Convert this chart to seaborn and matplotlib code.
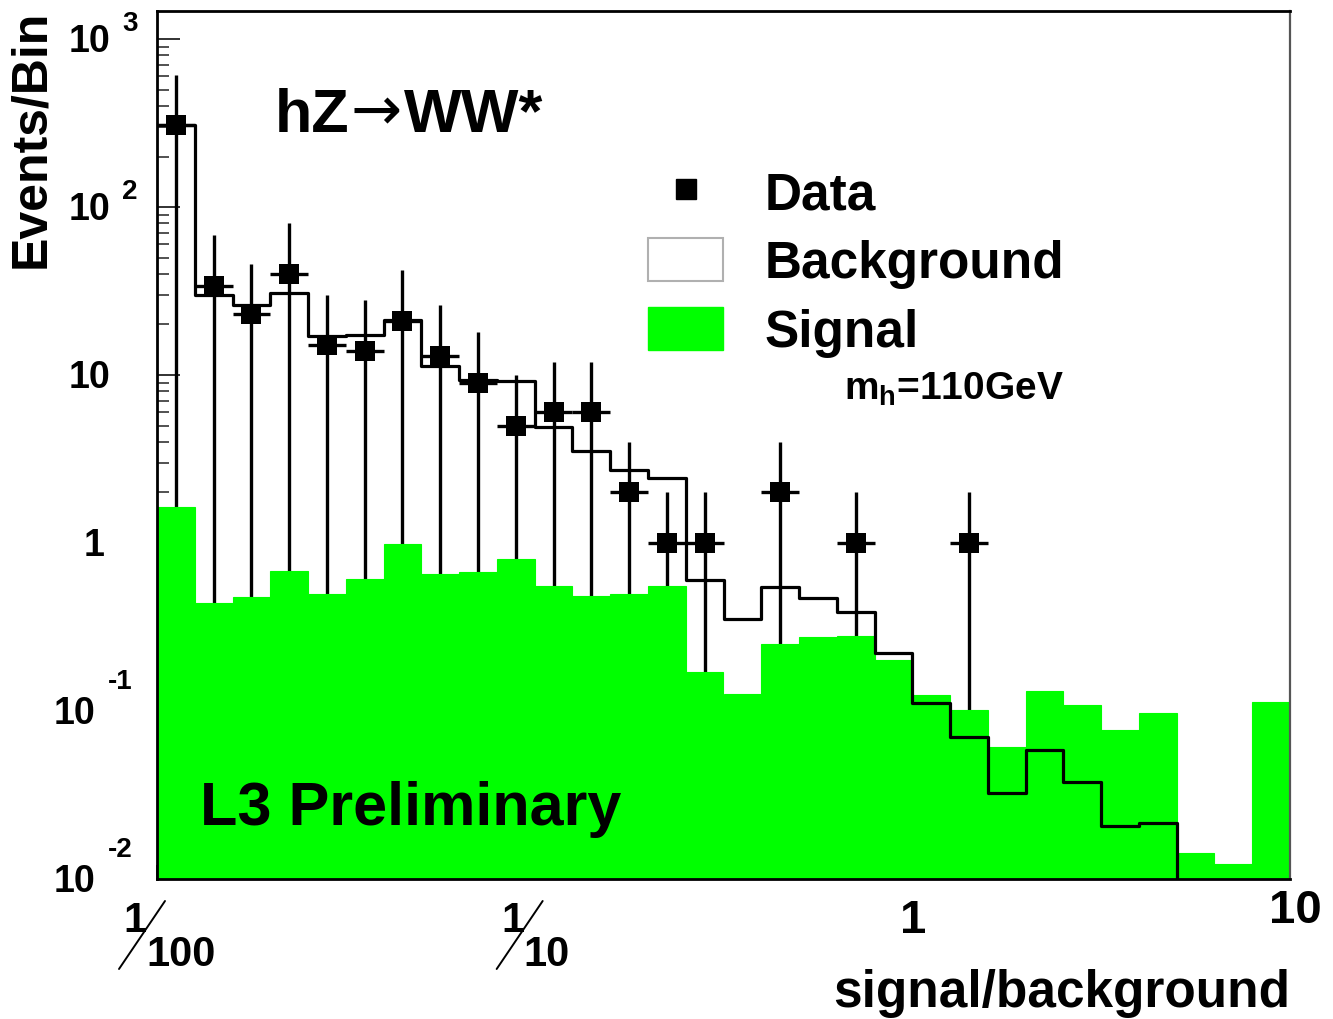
import numpy as np
import pandas as pd
import matplotlib
matplotlib.use("Agg")
import matplotlib.pyplot as plt
import seaborn as sns
from matplotlib.lines import Line2D
from matplotlib.patches import Patch
from matplotlib.container import BarContainer
from matplotlib.ticker import FixedLocator, NullFormatter, LogLocator

# ---------------- data ----------------
log_bin_edges = [round(-2.0 + 0.1 * k, 1) for k in range(31)]   # log10(signal/background)
signal = [1.64, 0.44, 0.475, 0.68, 0.50, 0.61, 0.99, 0.65, 0.67, 0.80,
          0.557, 0.485, 0.50, 0.557, 0.17, 0.126, 0.25, 0.274, 0.28, 0.20,
          0.124, 0.102, 0.061, 0.131, 0.109, 0.0775, 0.097, 0.0142, 0.0123, 0.113]
background = [307, 29.9, 26.1, 30.6, 17.1, 17.3, 21.3, 11.3, 9.4, 9.2,
              4.89, 3.55, 2.73, 2.43, 0.60, 0.353, 0.55, 0.469, 0.386, 0.223,
              0.112, 0.070, 0.0325, 0.0589, 0.0376, 0.0206, 0.0216, 0, 0, 0]
data_counts = [307, 34, 23, 40, 15, 14, 21, 13, 9, 5,
               6, 6, 2, 1, 1, 0, 2, 0, 1, 0,
               0, 1, 0, 0, 0, 0, 0, 0, 0, 0]
legend_labels = ["Data", "Background", "Signal"]
y_tick_values = [1e-2, 1e-1, 1, 10, 1e2, 1e3]
y_tick_base = ["10", "10", "1", "10", "10", "10"]
y_tick_exp = ["-2", "-1", "", "", "2", "3"]
x_tick_values = [0.01, 0.1, 1, 10]
x_tick_numer = ["1", "1", "1", "10"]
x_tick_denom = ["100", "10", "", ""]

# ---------------- style ----------------
sns.set_style("white")
FAM = ["Liberation Sans", "DejaVu Sans"]
plt.rcParams["font.family"] = FAM
plt.rcParams["font.weight"] = "bold"
plt.rcParams["text.color"] = "black"
plt.rcParams["axes.labelcolor"] = "black"
plt.rcParams["xtick.color"] = "black"
plt.rcParams["ytick.color"] = "black"
plt.rcParams["mathtext.fontset"] = "custom"
plt.rcParams["mathtext.rm"] = "Liberation Sans:bold"
plt.rcParams["mathtext.bf"] = "Liberation Sans:bold"
plt.rcParams["mathtext.it"] = "Liberation Sans:bold"
GREEN = "#00ff00"
FLOOR = 1e-5   # stands in for zero on the log axis (below the visible range)

W, H = 1333, 1020
fig = plt.figure(figsize=(W / 100, H / 100), dpi=100)
fig.patch.set_facecolor("white")
ax = fig.add_axes([157 / W, 1 - 880 / H, (1290 - 157) / W, (880 - 12) / H])
ax.set_xscale("log")
ax.set_yscale("log")

edges = np.power(10.0, np.array(log_bin_edges))
centers = np.sqrt(edges[:-1] * edges[1:])
df = pd.DataFrame({"sb": centers, "signal": signal,
                   "background": background, "data": data_counts,
                   "lo": edges[:-1], "hi": edges[1:]})
dd = df[df["data"] > 0]

# data error bars (drawn first, so the signal fill covers their lower part)
ax.errorbar(dd["sb"], dd["data"],
            yerr=[dd["data"] * (1 - FLOOR), dd["data"]],
            xerr=[dd["sb"] - dd["lo"], dd["hi"] - dd["sb"]],
            fmt="none", ecolor="black", elinewidth=2.4, capsize=0, zorder=1)

# signal (filled bars)
sns.histplot(data=df, x="sb", weights="signal", bins=log_bin_edges,
             log_scale=(True, True), element="bars", fill=True,
             color=GREEN, alpha=1, linewidth=0.8, edgecolor=GREEN,
             zorder=2, ax=ax)
# lift the bar baselines from 0 to a value below the axis (log axis cannot show 0)
for cont in ax.containers:
    if isinstance(cont, BarContainer):
        for r in cont:
            top = r.get_y() + r.get_height()
            r.set_y(FLOOR)
            r.set_height(top - FLOOR)

# background (outline)
n_lines = len(ax.lines)
sns.histplot(data=df, x="sb", weights="background", bins=log_bin_edges,
             log_scale=(True, True), element="step", fill=False,
             color="black", linewidth=2.3, zorder=3, ax=ax)
for ln in ax.lines[n_lines:]:
    yv = np.asarray(ln.get_ydata(), dtype=float)
    ln.set_ydata(np.where(yv <= 0, FLOOR, yv))

sns.scatterplot(data=dd, x="sb", y="data", marker="s", s=210, color="black",
                linewidth=0, zorder=5, ax=ax, legend=False)

ax.set_xlim(0.01, 10)
ax.set_ylim(0.01, 1470)
ax.set_xlabel("")
ax.set_ylabel("")

# ticks
ax.xaxis.set_major_locator(FixedLocator(list(10.0 ** np.arange(-2, 1.01, 0.5))))
ax.xaxis.set_minor_locator(FixedLocator(list(edges)))
ax.xaxis.set_major_formatter(NullFormatter())
ax.xaxis.set_minor_formatter(NullFormatter())
ax.yaxis.set_major_locator(FixedLocator(y_tick_values))
ax.yaxis.set_minor_locator(LogLocator(base=10, subs=np.arange(2, 10), numticks=20))
ax.yaxis.set_major_formatter(NullFormatter())
ax.yaxis.set_minor_formatter(NullFormatter())
ax.tick_params(axis="y", which="major", direction="in", length=16.5, width=1.3,
               left=True, right=False, color="#222222")
ax.tick_params(axis="y", which="minor", direction="in", length=8.5, width=1.1,
               left=True, right=False, color="#222222")
ax.tick_params(axis="x", which="major", direction="in", length=10, width=1.2,
               bottom=True, top=False, color="#222222")
ax.tick_params(axis="x", which="minor", direction="in", length=6, width=1.0,
               bottom=True, top=False, color="#222222")
for side in ["left", "bottom", "top"]:
    ax.spines[side].set_color("black")
    ax.spines[side].set_linewidth(2.0)
ax.spines["right"].set_color("#555555")
ax.spines["right"].set_linewidth(1.6)
for s in ax.spines.values():
    s.set_zorder(6)


def fxy(px, py):
    return px / W, 1 - py / H


TXT = dict(fontweight="bold", family=FAM, color="black")

# y tick labels (ROOT style: 10 with raised exponent)
for v, base, ex in zip(y_tick_values, y_tick_base, y_tick_exp):
    ty = H - ax.transData.transform((1.0, v))[1]
    if ex.startswith("-"):
        base_right, exp_left, exp_dy = 95, 108, -30
    elif ex:
        base_right, exp_left, exp_dy = 110, 122, -16
    else:
        base_right, exp_left, exp_dy = (105 if base == "1" else 110), 0, 0
    fig.text(*fxy(base_right, ty + 2), base, ha="right", va="center",
             fontsize=27, **TXT)
    if ex:
        fig.text(*fxy(exp_left, ty + exp_dy), ex, ha="left", va="center",
                 fontsize=20, **TXT)

# x tick labels (fractions for 1/100 and 1/10)
for i, (v, num, den) in enumerate(zip(x_tick_values, x_tick_numer, x_tick_denom)):
    tx = ax.transData.transform((v, 1.0))[0]
    if den:
        fig.text(*fxy(tx - 22, 921), num, ha="center", va="center",
                 fontsize=30, **TXT)
        fig.text(*fxy(tx - 11, 955), den, ha="left", va="center",
                 fontsize=30, **TXT)
        fig.add_artist(Line2D([(tx - 38) / W, (tx + 8) / W],
                              [1 - 970 / H, 1 - 902 / H],
                              transform=fig.transFigure, color="black", lw=1.4))
    else:
        last = i == len(x_tick_values) - 1
        fig.text(*fxy(tx + (5 if last else 1), 911 if last else 921), num,
                 ha="center", va="center", fontsize=34, **TXT)

# axis titles
fig.text(*fxy(1290, 1007), "signal/background", ha="right", va="baseline",
         fontsize=37, **TXT)
fig.text(*fxy(31, 10), "Events/Bin", ha="center", va="top", rotation=90,
         fontsize=36, **TXT)

# in-plot texts: process title with a thin long arrow
renderer = fig.canvas.get_renderer()
t1 = fig.text(*fxy(275, 132), "hZ", ha="left", va="baseline",
              fontsize=44, zorder=10, **TXT)
x_after = t1.get_window_extent(renderer).x1
t2 = fig.text((x_after + 1) / W, 1 - 130 / H, "\u2192", ha="left", va="baseline",
              fontsize=44, fontweight="normal", family=["DejaVu Sans"],
              color="black", zorder=10)
x_after = t2.get_window_extent(renderer).x1
fig.text((x_after + 2) / W, 1 - 132 / H, "WW*", ha="left", va="baseline",
         fontsize=44, zorder=10, **TXT)

fig.text(*fxy(200, 825), "L3 Preliminary", ha="left", va="baseline",
         fontsize=44, zorder=10, **TXT)
fig.text(*fxy(844, 400), r"m$_\mathrm{h}$=110GeV", ha="left", va="baseline",
         fontsize=28, zorder=10, **TXT)

# legend
handles = [Line2D([], [], marker="s", ls="none", color="black", markersize=15),
           Patch(facecolor="white", edgecolor="#b0b0b0", linewidth=1.5),
           Patch(facecolor=GREEN, edgecolor=GREEN)]
ax_w, ax_h = 1290 - 157, 880 - 12
leg = ax.legend(handles, legend_labels, loc="upper left",
                bbox_to_anchor=((648 - 157) / ax_w, (880 - 170) / ax_h),
                frameon=False, handlelength=1.46, handleheight=0.9,
                handletextpad=0.8, labelspacing=0.37, borderpad=0,
                borderaxespad=0, labelcolor="black",
                prop=dict(family=FAM, weight="bold", size=37))
leg.set_zorder(10)

fig.savefig("out.png", dpi=100, facecolor="white")
